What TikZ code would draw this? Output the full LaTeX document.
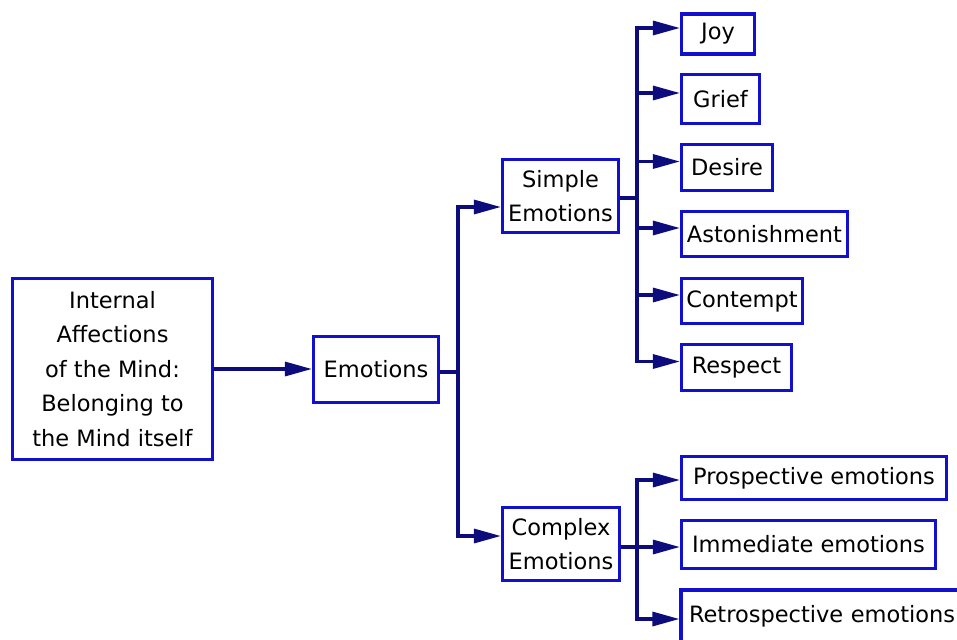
\documentclass[tikz,border=0pt]{standalone}
\usepackage{fontspec}
\setmainfont{DejaVu Sans}
\usetikzlibrary{arrows.meta}
\definecolor{boxblue}{RGB}{16,16,205}
\definecolor{linknavy}{RGB}{12,12,125}
\begin{document}
\begin{tikzpicture}[x=1pt,y=-1pt,
  box/.style={draw=boxblue, line width=3.2pt, fill=white, align=center,
    inner sep=0pt, text=black, font=\fontsize{22.5}{34.5}\selectfont},
  link/.style={draw=linknavy, line width=3.2pt, line join=miter},
  arr/.style={link, -{Triangle[length=27pt,width=14pt]}}]
\clip (0,0) rectangle (957,639);
\fill[white] (0,0) rectangle (957,639);

% boxes
\node[box, minimum width=200pt, minimum height=181pt] (root) at (112.5,369)
  {Internal\\Affections\\of the Mind:\\Belonging to\\the Mind itself};
\node[box, minimum width=125pt, minimum height=66pt] (emo) at (376,369.5) {Emotions};
\node[box, minimum width=116pt, minimum height=73pt] (simple) at (560.5,196) {Simple\\Emotions};
\node[box, minimum width=117pt, minimum height=73pt] (complex) at (561,544) {Complex\\Emotions};

\node[box, minimum width=73pt,  minimum height=40pt] (joy)      at (718,34)    {Joy};
\node[box, minimum width=78pt,  minimum height=49pt] (grief)    at (720.5,99)  {Grief};
\node[box, minimum width=91pt,  minimum height=46pt] (desire)   at (727,167.5) {Desire};
\node[box, minimum width=166pt, minimum height=45pt] (aston)    at (764.5,234) {Astonishment};
\node[box, minimum width=121pt, minimum height=45pt] (contempt) at (742,301)   {Contempt};
\node[box, minimum width=110pt, minimum height=46pt] (respect)  at (736.5,367.5) {Respect};

\node[box, minimum width=265pt, minimum height=43pt] (prosp) at (814,478)   {Prospective emotions};
\node[box, minimum width=254pt, minimum height=48pt] (immed) at (808.5,544.5) {Immediate emotions};
\node[box, minimum width=298pt, minimum height=52pt, text width=292pt, align=left] (retro) at (830,616)
  {\hspace*{5pt}Retrospective emotions};

% bus points
\coordinate (busA) at (458,372);
\coordinate (busB) at (637,198);
\coordinate (busC) at (637,547);

% connectors
\draw[arr] (root.east) -- (emo.west |- root.east);

\draw[link] (emo.east |- busA) -- (busA);
\draw[arr] (busA) |- ([yshift=-11pt]simple.west);
\draw[arr] (busA) |- ([yshift=8pt]complex.west);

\draw[link] (simple.east |- busB) -- (busB);
\foreach \n in {joy,grief,desire,aston,contempt,respect}
  \draw[arr] (busB) |- ([yshift=6pt]\n.west);

\draw[link] (complex.east |- busC) -- (busC);
\draw[arr] (busC) |- ([yshift=-2pt]prosp.west);
\draw[arr] (busC) |- ([yshift=-2.5pt]immed.west);
\draw[arr] (busC) |- ([yshift=-3pt]retro.west);
\end{tikzpicture}
\end{document}
